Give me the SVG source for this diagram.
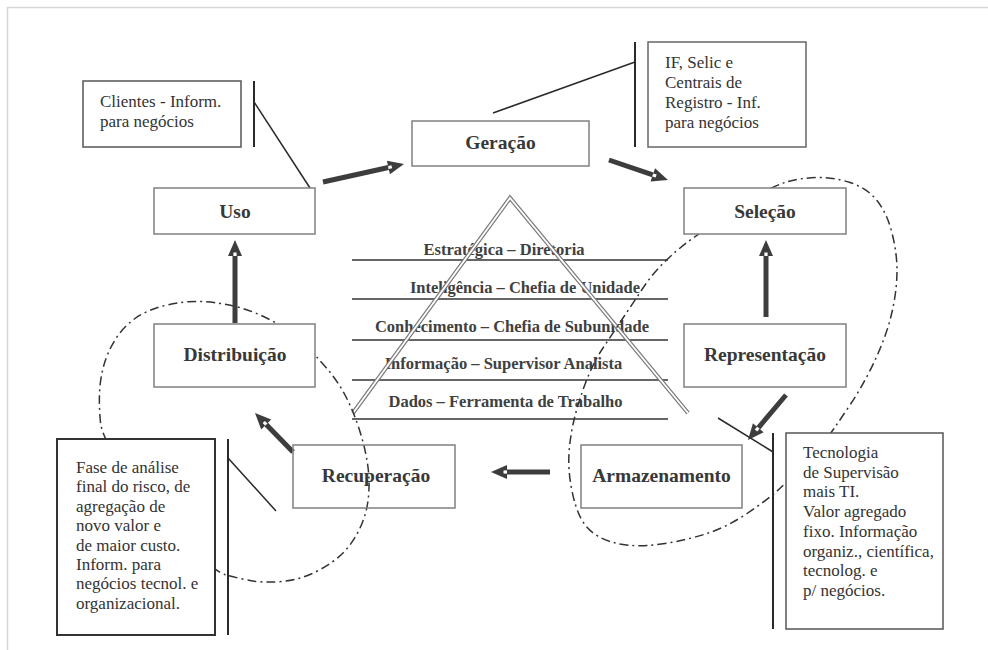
<svg xmlns="http://www.w3.org/2000/svg" width="988" height="650" viewBox="0 0 988 650">
<style>
.node{fill:#fff;stroke:#808080;stroke-width:1.5}
.call{fill:#fff;stroke:#555;stroke-width:1.5}
.lbl{font-family:"Liberation Serif","Times New Roman",serif;font-weight:bold;font-size:19.5px;fill:#383838;text-anchor:middle}
.pt{font-family:"Liberation Serif","Times New Roman",serif;font-weight:bold;font-size:16.5px;fill:#404040;text-anchor:middle}
.ct{font-family:"Liberation Serif","Times New Roman",serif;font-size:17px;fill:#333}
.lead{stroke:#2a2a2a;stroke-width:1.5;fill:none}
.bar{stroke:#2a2a2a;stroke-width:2;fill:none}
.arr{stroke:#3d3d3d;stroke-width:5;fill:none;marker-end:url(#ah)}
.loop{fill:none;stroke:#333;stroke-width:1.5;stroke-dasharray:9 4 2 4}
.hl{stroke:#333;stroke-width:1.6}
</style>
<defs>
<marker id="ah" markerUnits="userSpaceOnUse" markerWidth="16" markerHeight="14" viewBox="0 0 16 14" refX="0" refY="7" orient="auto" overflow="visible">
<path d="M0,0 L16,7 L0,14 Z" fill="#3d3d3d"/>
<rect x="0" y="5.4" width="3.5" height="3.2" fill="#fff"/>
</marker>
</defs>
<rect width="988" height="650" fill="#fff"/>
<g id="frame" stroke="#d6d6d6" stroke-width="1.5">
<line x1="7" y1="7.5" x2="988" y2="7.5"/>
<line x1="7.5" y1="7" x2="7.5" y2="650"/>
</g>
<g id="pyramid">
<g class="hl">
<line x1="352" y1="260" x2="668" y2="260"/>
<line x1="352" y1="299" x2="668" y2="299"/>
<line x1="352" y1="340" x2="668" y2="340"/>
<line x1="352" y1="380" x2="668" y2="380"/>
<line x1="352" y1="419" x2="668" y2="419"/>
</g>
<text class="pt" x="504" y="255">Estratégica – Diretoria</text>
<text class="pt" x="525" y="293">Inteligência – Chefia de Unidade</text>
<text class="pt" x="512" y="332">Conhecimento – Chefia de Subunidade</text>
<text class="pt" x="503.5" y="369">Informação – Supervisor Analista</text>
<text class="pt" x="505.5" y="407">Dados – Ferramenta de Trabalho</text>
<polyline points="353,413 510,198 688,413" fill="none" stroke="#7a7a7a" stroke-width="4.2"/>
<polyline points="353,413 510,198 688,413" fill="none" stroke="#fff" stroke-width="1.8"/>
</g>
<g id="loops">
<path class="loop" d="M754,198 Q773,186 786.5,182 Q800,178 816.5,177.5 Q833,177 850,182.5 Q867,188 877,200.5 Q887,213 892,233 Q897,253 897,270 Q897,287 893.5,305 Q890,323 883.5,340 Q877,357 868.5,373.5 Q860,390 851,403.5 Q842,417 834,428.5 Q826,440 816,451 Q806,462 796,472.5 Q786,483 776.5,491.5 Q767,500 747,513.5 Q727,527 707,533.5 Q687,540 665,543.5 Q643,547 626.5,545 Q610,543 598.5,536.5 Q587,530 581,518.5 Q575,507 571.5,488.5 Q568,470 569,453.5 Q570,437 574,420 Q578,403 585.5,383 Q593,363 603,348 Q613,333 623,318 Q633,303 643,288 Q653,273 665,261.5 Q677,250 687,242.5 Q697,235 716,222.5 Q735,210 754,198 Z"/>
<path class="loop" d="M126,474 Q102,438 100.5,422.5 Q99,407 99.5,393.5 Q100,380 103.5,366.5 Q107,353 115,340 Q123,327 135,318.5 Q147,310 165,305.5 Q183,301 200,301.5 Q217,302 233.5,306 Q250,310 263.5,316.5 Q277,323 288.5,330.5 Q300,338 307.5,346.5 Q315,355 326,367.5 Q337,380 345,395 Q353,410 359,428.5 Q365,447 367.5,463.5 Q370,480 368.5,496.5 Q367,513 360,528 Q353,543 343,553 Q333,563 316.5,571.5 Q300,580 281.5,581.5 Q263,583 250,580.5 Q237,578 226,575 Q215,572 182.5,541 Q150,510 126,474 Z"/>
</g>
<g id="connectors">
<line class="bar" x1="254" y1="81" x2="254" y2="147"/>
<line class="lead" x1="254" y1="102" x2="310" y2="188"/>
<line class="bar" x1="635" y1="42" x2="635" y2="147"/>
<line class="lead" x1="493" y1="113" x2="635" y2="62"/>
<line class="bar" x1="228" y1="439" x2="228" y2="635"/>
<line class="lead" x1="228" y1="458" x2="276" y2="511"/>
<line class="bar" x1="773" y1="433" x2="773" y2="629"/>
<line class="lead" x1="718" y1="418" x2="773" y2="452"/>
<line class="arr" x1="235" y1="323" x2="235" y2="256"/>
<line class="arr" x1="323" y1="182" x2="388.4" y2="167.5"/>
<line class="arr" x1="609" y1="160" x2="652.8" y2="174.9"/>
<line class="arr" x1="766" y1="317" x2="766" y2="256"/>
<line class="arr" x1="786" y1="395" x2="758.3" y2="427.8"/>
<line class="arr" x1="550" y1="472" x2="507" y2="472"/>
<line class="arr" x1="293" y1="452" x2="266.2" y2="424.5"/>
</g>
<g id="node-clientes">
<rect class="call" x="83" y="81" width="158" height="66"/>
<text class="ct" x="100" y="107">Clientes - Inform.</text>
<text class="ct" x="100" y="127">para negócios</text>
</g>
<g id="node-if">
<rect class="call" x="648" y="42" width="158" height="105" style="stroke:#666"/>
<text class="ct" x="665" y="68">IF, Selic e</text>
<text class="ct" x="665" y="88">Centrais de</text>
<text class="ct" x="665" y="108">Registro - Inf.</text>
<text class="ct" x="665" y="127.5">para negócios</text>
</g>
<g id="node-uso">
<rect class="node" x="154" y="188" width="161" height="46"/>
<text class="lbl" x="235" y="217.5">Uso</text>
</g>
<g id="node-geracao">
<rect class="node" x="412" y="121" width="177" height="45"/>
<text class="lbl" x="500.5" y="149">Geração</text>
</g>
<g id="node-selecao">
<rect class="node" x="684" y="188" width="162" height="46"/>
<text class="lbl" x="765" y="217.5">Seleção</text>
</g>
<g id="node-representacao">
<rect class="node" x="684" y="324" width="162" height="63"/>
<text class="lbl" x="765" y="361">Representação</text>
</g>
<g id="node-distribuicao">
<rect class="node" x="154" y="324" width="161" height="63"/>
<text class="lbl" x="235" y="361">Distribuição</text>
</g>
<g id="node-recuperacao">
<rect class="node" x="293" y="445" width="162" height="63" style="fill:none"/>
<text class="lbl" x="376" y="482">Recuperação</text>
</g>
<g id="node-armazenamento">
<rect class="node" x="581" y="445" width="161" height="63"/>
<text class="lbl" x="661.5" y="482">Armazenamento</text>
</g>
<g id="node-fase">
<rect class="call" x="57" y="439" width="158" height="196" style="stroke:#333;stroke-width:2"/>
<text class="ct" x="76" y="473">Fase de análise</text>
<text class="ct" x="76" y="492.4">final do risco, de</text>
<text class="ct" x="76" y="511.8">agregação de</text>
<text class="ct" x="76" y="531.2">novo valor e</text>
<text class="ct" x="76" y="550.6">de maior custo.</text>
<text class="ct" x="76" y="570">Inform. para</text>
<text class="ct" x="76" y="589.4">negócios tecnol. e</text>
<text class="ct" x="76" y="608.8">organizacional.</text>
</g>
<g id="node-tecnologia">
<rect class="call" x="786" y="433" width="157" height="196"/>
<text class="ct" x="803" y="458">Tecnologia</text>
<text class="ct" x="803" y="477.7">de Supervisão</text>
<text class="ct" x="803" y="497.4">mais TI.</text>
<text class="ct" x="803" y="517.1">Valor agregado</text>
<text class="ct" x="803" y="536.8">fixo. Informação</text>
<text class="ct" x="803" y="556.5">organiz., científica,</text>
<text class="ct" x="803" y="576.2">tecnolog. e</text>
<text class="ct" x="803" y="595.9">p/ negócios.</text>
</g>
</svg>
